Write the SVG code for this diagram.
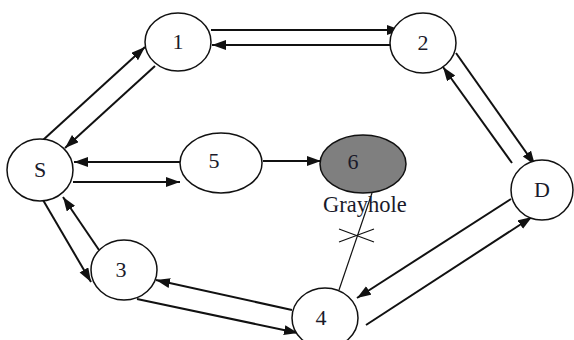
<svg xmlns="http://www.w3.org/2000/svg" width="574" height="340" viewBox="0 0 574 340">
<style>
.node ellipse{fill:#fff;stroke:#111;stroke-width:1.5}
.node text{font-family:"Liberation Serif","Times New Roman",serif;font-size:22px;fill:#1a1a2a;text-anchor:middle}
.edge{stroke:#111;stroke-width:2;fill:none;marker-end:url(#ah)}
.thin{stroke:#111;stroke-width:1.2;fill:none}
.lbl{font-family:"Liberation Serif","Times New Roman",serif;font-size:22.5px;fill:#1a1a2a}
</style>
<defs>
<marker id="ah" markerUnits="userSpaceOnUse" markerWidth="15" markerHeight="11" refX="14" refY="5" orient="auto">
<path d="M0,0 L14,5 L0,10 z" fill="#111"/>
</marker>
</defs>
<rect width="574" height="340" fill="#fff"/>
<g id="connectors">
<line class="edge" x1="211" y1="30" x2="401" y2="30"/>
<line class="edge" x1="390" y1="45" x2="212" y2="45"/>
<line class="edge" x1="43" y1="140" x2="145" y2="47"/>
<line class="edge" x1="155" y1="66" x2="65" y2="148"/>
<line class="edge" x1="180" y1="162" x2="74" y2="162"/>
<line class="edge" x1="73" y1="182" x2="180" y2="182"/>
<line class="edge" x1="263" y1="161" x2="321" y2="161"/>
<line class="edge" x1="456" y1="53" x2="535" y2="165"/>
<line class="edge" x1="512" y1="163" x2="443" y2="67"/>
<line class="edge" x1="511" y1="199" x2="357" y2="298"/>
<line class="edge" x1="366" y1="325" x2="532" y2="217"/>
<line class="edge" x1="292" y1="310" x2="156" y2="280"/>
<line class="edge" x1="137" y1="299" x2="298" y2="333"/>
<line class="edge" x1="43" y1="200" x2="91" y2="282"/>
<line class="edge" x1="99" y1="250" x2="63" y2="197"/>
<line class="thin" x1="372" y1="193" x2="339" y2="290"/>
<line class="thin" x1="339" y1="229" x2="374" y2="242"/>
<line class="thin" x1="339" y1="242" x2="374" y2="229"/>
</g>
<g id="node-1" class="node"><ellipse cx="178" cy="42" rx="33" ry="29"/><text x="178" y="49">1</text></g>
<g id="node-2" class="node"><ellipse cx="423" cy="43" rx="33" ry="30"/><text x="423" y="50">2</text></g>
<g id="node-S" class="node"><ellipse cx="40" cy="170" rx="33" ry="31"/><text x="40" y="177">S</text></g>
<g id="node-5" class="node"><ellipse cx="221" cy="163" rx="41" ry="30"/><text x="214" y="168">5</text></g>
<g id="node-6" class="node"><ellipse cx="363" cy="164" rx="43" ry="29" style="fill:#7f7f7f"/><text x="353" y="169">6</text></g>
<g id="node-D" class="node"><ellipse cx="542" cy="190" rx="31" ry="30"/><text x="542" y="197">D</text></g>
<g id="node-3" class="node"><ellipse cx="124" cy="270" rx="33" ry="30"/><text x="121" y="277">3</text></g>
<g id="node-4" class="node"><ellipse cx="325" cy="318" rx="33" ry="30"/><text x="321" y="325">4</text></g>
<text class="lbl" x="323" y="212">Grayhole</text>
</svg>
